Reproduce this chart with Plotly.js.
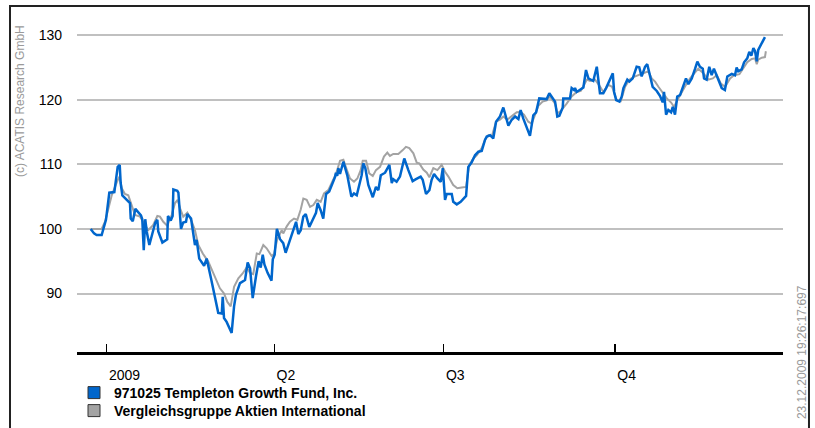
<!DOCTYPE html>
<html>
<head>
<meta charset="utf-8">
<script src="https://cdn.plot.ly/plotly-3.0.1.min.js"></script>
<style>html,body{margin:0;padding:0;background:#fff;}#chart{width:815px;height:428px;}</style>
</head>
<body>
<div id="chart"></div>
<script>
// Series names
const seriesNames = ['971025 Templeton Growth Fund, Inc.', 'Vergleichsgruppe Aktien International'];

// Day offsets from 2009-01-01 and values
const fundDays = [-8.6,-6.8,-5.4,-2.7,-0.4,0.9,1.4,4.1,5.4,5.9,7.0,7.5,8.4,10.7,12.5,12.9,14.0,15.4,17.5,18.4,19.1,19.9,20.7,21.5,22.9,24.2,25.4,26.1,27.2,27.7,29.9,31.3,32.5,32.9,34.4,35.4,35.8,37.9,38.5,39.9,41.1,42.6,43.3,45.3,47.4,48.3,49.7,52.3,53.7,56.0,59.9,61.8,62.3,63.0,64.4,67.1,68.4,69.4,71.6,74.3,75.7,77.0,78.4,80.2,81.6,82.7,83.8,84.7,86.4,88.5,89.2,90.2,91.4,93.1,94.8,96.1,98.1,99.9,101.7,102.9,104.2,105.6,106.9,108.8,110.6,112.4,113.3,114.9,116.3,117.8,119.5,121.4,122.6,123.1,123.8,124.4,125.3,127.1,129.2,131.4,132.8,134.3,135.7,136.9,137.8,138.9,140.5,142.9,144.6,145.9,147.2,149.5,151.8,153.1,153.9,155.7,157.5,159.8,162.0,164.3,166.1,168.6,169.7,171.5,173.3,174.5,175.8,177.6,179.4,180.5,181.7,182.6,185.3,186.1,188.0,190.1,193.0,194.2,196.0,197.8,199.6,201.4,203.2,204.1,205.9,207.6,209.1,211.2,213.0,214.4,215.7,217.5,219.3,221.1,222.3,223.7,225.6,227.3,229.1,230.6,232.3,234.5,236.3,237.7,239.5,240.8,242.0,243.1,244.9,245.2,248.8,249.7,251.0,251.5,252.4,255.1,256.0,257.4,258.7,261.3,263.2,264.9,266.7,268.2,270.3,271.8,272.5,273.6,275.4,276.6,277.5,278.4,279.6,280.7,282.5,284.6,286.0,287.3,289.1,290.3,291.4,293.2,295.4,297.1,298.6,299.3,300.4,301.6,303.1,304.0,305.2,306.4,307.9,309.3,311.1,312.4,314.2,316.0,317.2,318.6,320.1,320.8,322.2,323.6,324.9,326.1,327.6,329.0,330.3,332.0,333.3,335.7,337.4,338.3,339.2,341.0,342.3,344.0,345.1,346.2,347.3,348.2,349.1,349.9,351.2,353.5];
const fundValues = [100.0,99.3,99.05,99.05,101.4,104.0,105.6,105.7,108.3,109.6,109.9,107.1,105.2,104.5,104.0,101.6,101.2,103.1,102.5,102.1,101.5,96.7,101.5,99.6,97.5,98.9,99.8,101.0,101.4,99.6,97.9,98.2,98.4,102.0,101.3,102.0,106.1,105.9,105.6,100.0,101.0,101.1,102.3,101.6,97.5,98.3,95.4,94.3,95.4,92.35,87.0,86.9,89.5,86.2,85.6,83.9,88.0,89.8,91.6,92.1,94.8,93.9,89.3,92.7,95.0,94.0,96.0,94.5,93.2,92.0,95.3,96.0,100.0,98.4,97.8,96.3,98.0,99.8,101.1,99.2,99.8,101.9,102.3,100.3,101.4,102.5,104.0,102.9,101.6,105.4,105.8,107.1,108.0,108.7,108.2,109.4,108.5,110.4,108.3,105.0,105.5,105.2,106.8,108.3,110.15,109.4,106.8,104.9,106.5,106.0,108.3,108.7,109.9,107.1,107.7,107.3,108.1,110.9,109.1,107.4,107.7,108.1,107.6,105.4,106.0,107.6,108.5,107.8,107.3,109.4,104.5,105.4,105.4,104.2,103.8,104.2,105.1,109.6,110.3,111.4,111.95,112.06,113.8,114.3,114.5,114.0,116.6,117.4,118.8,117.1,116.0,116.9,117.4,117.0,118.4,117.1,115.7,114.4,117.6,118.05,120.2,120.2,120.1,121.0,120.2,119.7,117.4,117.5,118.8,120.2,120.2,121.8,121.5,121.8,121.2,121.8,121.9,124.6,123.3,122.9,125.1,121.0,121.0,121.8,123.3,124.1,121.2,119.95,119.7,120.5,121.8,122.3,123.1,122.8,123.3,125.1,125.0,123.6,125.1,125.5,124.1,122.0,121.35,120.6,119.6,121.2,117.7,118.4,118.05,118.9,117.7,120.5,120.7,122.0,123.3,122.4,123.3,124.8,125.9,125.1,124.8,123.3,123.1,125.1,123.8,124.8,123.8,122.9,121.8,121.5,123.6,124.0,123.8,125.0,124.4,124.7,125.8,126.4,127.4,126.8,128.0,127.5,125.95,127.7,128.4,129.7];

const peerDays = [-8.6,-2.7,-0.9,0.9,2.7,5.4,6.8,8.1,9.8,11.6,13.4,15.2,17.9,20.6,22.3,25.0,27.2,28.6,30.4,32.5,34.9,36.7,38.1,39.4,41.1,43.3,45.6,47.4,49.2,51.6,54.6,56.9,59.1,60.8,63.0,64.8,66.6,68.4,70.7,73.0,75.2,77.0,78.7,80.6,82.0,84.1,85.9,88.6,89.8,91.6,94.0,94.8,96.7,98.4,100.6,102.4,104.2,105.6,107.4,109.2,111.0,112.8,114.9,116.7,119.0,121.4,123.1,125.3,127.1,128.9,130.7,132.8,134.6,136.4,137.5,139.3,141.0,142.9,144.6,146.8,148.9,150.7,152.1,153.9,156.6,159.0,160.7,162.5,164.7,166.5,167.9,170.0,171.9,173.3,175.4,177.6,179.9,181.7,183.5,186.1,188.3,190.6,193.0,194.7,196.9,198.7,201.4,203.2,205.0,206.8,209.1,211.2,213.0,215.1,217.5,220.2,222.3,224.1,226.4,228.2,230.0,231.8,234.1,236.3,238.0,240.8,242.0,243.8,247.0,249.7,252.4,254.6,256.4,257.8,259.6,262.3,265.0,266.7,269.4,271.4,273.9,276.1,278.4,280.7,282.8,285.5,288.2,290.9,292.7,294.5,296.3,298.1,300.8,303.0,304.7,306.5,308.8,311.1,313.3,315.4,317.7,320.4,323.1,325.5,327.6,329.8,332.1,334.8,336.9,339.8,341.9,344.0,346.4,348.2,349.1,349.9,351.8,353.5,354.0];
const peerValues = [100.0,100.0,101.1,103.4,105.2,107.2,108.1,106.3,105.4,105.2,103.7,102.15,101.9,100.6,99.8,100.6,102.0,101.9,101.1,100.5,102.15,104.0,104.5,103.2,101.9,102.5,101.2,99.8,97.5,96.2,94.9,93.4,91.8,90.8,90.0,88.7,88.0,91.05,92.35,93.1,94.05,93.2,93.0,96.2,96.1,97.5,97.0,95.8,96.1,98.4,99.8,99.3,100.4,101.1,101.6,101.4,103.0,104.7,104.5,103.4,103.7,104.5,104.2,105.5,106.0,107.5,108.5,110.55,110.7,109.2,107.8,107.3,107.8,109.1,110.55,110.55,108.6,108.2,109.1,109.6,111.2,111.8,111.3,111.6,111.6,112.2,112.7,112.5,111.7,110.25,110.15,109.2,108.7,108.0,109.4,109.1,109.9,108.85,108.1,106.8,106.3,106.4,106.5,109.9,110.9,111.4,112.5,113.8,114.5,114.3,116.6,116.9,117.4,116.9,117.4,118.05,118.1,117.7,116.6,116.3,117.6,119.05,119.7,119.9,120.5,119.4,117.9,118.25,119.4,120.5,121.2,121.35,122.3,123.1,122.9,123.1,122.0,121.2,122.3,122.0,119.95,119.8,122.0,123.1,123.5,123.8,124.1,124.4,123.3,122.8,122.0,121.2,120.2,119.6,118.9,119.95,121.2,122.3,123.3,124.1,124.8,124.1,123.1,123.3,123.8,122.5,122.0,123.3,123.8,123.95,124.8,125.8,126.3,126.4,125.5,126.2,126.5,126.6,127.5];

// Axis ticks
const xTickDates = ['2009-01-01', '2009-04-01', '2009-07-01', '2009-10-01'];
const xTickLabels = ['2009', 'Q2', 'Q3', 'Q4'];
const yTickValues = [90, 100, 110, 120, 130];

const BASE = Date.UTC(2009, 0, 1);
function toDate(d) {
  return new Date(BASE + d * 86400000).toISOString().replace('T', ' ').slice(0, 19);
}

const BLUE = '#0066cc';
const GRAY = '#a3a3a3';

const traces = [
  {type: 'scatter', mode: 'lines', x: peerDays.map(toDate), y: peerValues,
   line: {color: GRAY, width: 2}, showlegend: false, name: seriesNames[1]},
  {type: 'scatter', mode: 'lines', x: fundDays.map(toDate), y: fundValues,
   line: {color: BLUE, width: 2.5}, showlegend: false, name: seriesNames[0]},
  {type: 'scatter', mode: 'markers', x: [null], y: [null], name: seriesNames[0], legend: 'legend',
   marker: {symbol: 'square', size: 12, color: BLUE, line: {color: '#333', width: 1}}},
  {type: 'scatter', mode: 'markers', x: [null], y: [null], name: seriesNames[1], legend: 'legend2',
   marker: {symbol: 'square', size: 12, color: GRAY, line: {color: '#333', width: 1}}}
];

const legendStyle = {
  xanchor: 'left', yanchor: 'middle', orientation: 'v',
  bgcolor: 'rgba(0,0,0,0)', borderwidth: 0,
  font: {size: 14, weight: 'bold', color: '#000'}, itemwidth: 30
};

const layout = {
  width: 815, height: 428,
  margin: {l: 77, r: 32, t: 20, b: 76, pad: 0, autoexpand: false},
  paper_bgcolor: '#ffffff', plot_bgcolor: '#ffffff',
  font: {family: 'Liberation Sans, Arial, sans-serif', size: 14, color: '#000'},
  xaxis: {
    type: 'date', range: [toDate(-15.95), toDate(363.2)],
    tickvals: xTickDates, ticktext: xTickLabels,
    ticks: 'inside', ticklen: 8, tickwidth: 1.5, tickcolor: '#000',
    showline: true, linewidth: 3, linecolor: '#000',
    showgrid: false, zeroline: false,
    ticklabelposition: 'outside right', ticklabelstandoff: 8,
    tickfont: {size: 14, color: '#000'}
  },
  yaxis: {
    range: [80.944, 132.34], tickvals: yTickValues,
    showgrid: true, gridcolor: '#c0c0c0', gridwidth: 2,
    zeroline: false, showline: false, ticks: '', ticklabelstandoff: 14,
    tickfont: {size: 14, color: '#000'}
  },
  showlegend: true,
  legend: Object.assign({x: -3 / 706, y: (352 - 393) / 332}, legendStyle),
  legend2: Object.assign({x: -3 / 706, y: (352 - 411) / 332}, legendStyle),
  shapes: [
    {type: 'rect', xref: 'paper', yref: 'paper', x0: -0.0949, x1: 1.0368, y0: -0.3, y1: 1.042,
     line: {color: '#222', width: 2}, fillcolor: 'rgba(0,0,0,0)', layer: 'below'}
  ],
  annotations: [
    {text: '(c) ACATIS Research GmbH', xref: 'paper', yref: 'paper', x: -0.0807, y: 0.756,
     textangle: -90, showarrow: false, xanchor: 'center', yanchor: 'middle',
     font: {size: 12, color: '#9a9a9a'}},
    {text: '23.12.2009 19:26:17:697', xref: 'paper', yref: 'paper', x: 1.027, y: 0.0,
     textangle: -90, showarrow: false, xanchor: 'center', yanchor: 'middle',
     font: {size: 12, color: '#9a9a9a'}}
  ]
};

Plotly.newPlot('chart', traces, layout, {displayModeBar: false, staticPlot: true});
</script>
</body>
</html>
